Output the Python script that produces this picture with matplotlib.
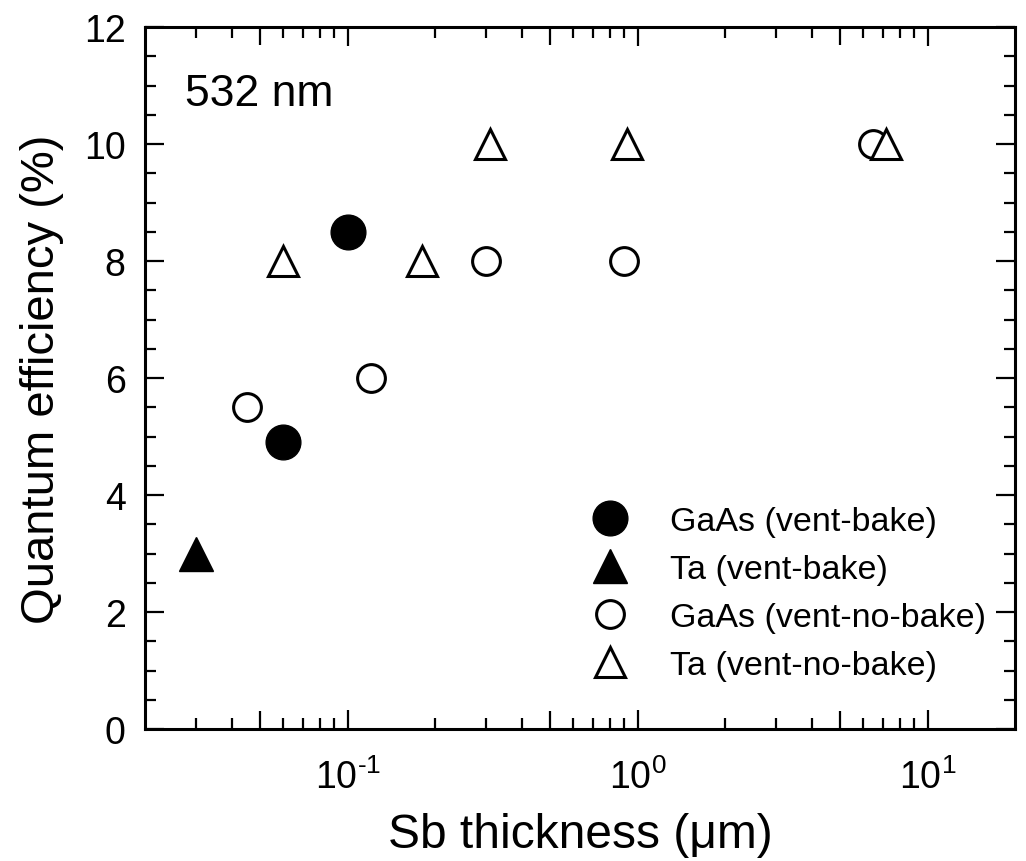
import numpy as np
import matplotlib
matplotlib.use("Agg")
import matplotlib.pyplot as plt
from matplotlib.ticker import FixedLocator, NullFormatter

plt.rcParams['font.family'] = ['Liberation Sans', 'DejaVu Sans']
plt.rcParams['mathtext.fontset'] = 'custom'
plt.rcParams['mathtext.rm'] = 'Liberation Sans'
plt.rcParams['mathtext.it'] = 'Liberation Sans:italic'
plt.rcParams['mathtext.bf'] = 'Liberation Sans:bold'

# Sb thickness (um) vs QE (%) at 532 nm
gaas_bake_x = [0.06, 0.1]
gaas_bake_y = [4.9, 8.5]
ta_bake_x = [0.03]
ta_bake_y = [3.0]
gaas_nobake_x = [0.045, 0.12, 0.3, 0.9, 6.5]
gaas_nobake_y = [5.5, 6.0, 8.0, 8.0, 10.0]
ta_nobake_x = [0.06, 0.18, 0.31, 0.92, 7.2]
ta_nobake_y = [8.0, 8.0, 10.0, 10.0, 10.0]

labels = ['GaAs (vent-bake)', 'Ta (vent-bake)',
          'GaAs (vent-no-bake)', 'Ta (vent-no-bake)']

fig = plt.figure(figsize=(10.26, 8.62), dpi=100)
ax = fig.add_axes([0.1413, 0.1531, 0.848, 0.8144])

ax.plot(gaas_bake_x, gaas_bake_y, 'o', color='k', ms=25, ls='none', label=labels[0])
ax.plot(ta_bake_x, ta_bake_y, '^', color='k', ms=25, ls='none', label=labels[1])
ax.plot(gaas_nobake_x, gaas_nobake_y, 'o', mfc='white', mec='k', mew=2.2, ms=20,
        ls='none', label=labels[2])
ax.plot(ta_nobake_x, ta_nobake_y, '^', mfc='white', mec='k', mew=2.2, ms=21,
        ls='none', label=labels[3])

ax.set_xscale('log')
ax.set_xlim(0.02, 20)
ax.set_ylim(0, 12)

ax.xaxis.set_major_locator(FixedLocator([0.1, 1, 10]))
ax.set_xticklabels([r'10$^{\text{-}1}$', r'10$^{0}$', r'10$^{1}$'])
minor_x = [k * 10.0**d for d in (-2, -1, 0) for k in range(3, 10)] + [0.2, 2]
ax.xaxis.set_minor_locator(FixedLocator(sorted(minor_x)))
ax.xaxis.set_minor_formatter(NullFormatter())

ax.set_yticks(np.arange(0, 13, 2))
ax.yaxis.set_minor_locator(FixedLocator(np.arange(0, 12.01, 0.5)))

ax.tick_params(which='both', direction='in', top=True, right=True, width=1.6)
ax.tick_params(which='major', length=14, labelsize=27, pad=14)
ax.tick_params(axis='x', which='major', pad=21)
ax.tick_params(which='minor', length=8)
for s in ax.spines.values():
    s.set_linewidth(2.2)

# half-decade ticks drawn a bit longer
for loc, t in zip(ax.xaxis.get_minorticklocs(), ax.xaxis.get_minor_ticks()):
    if np.isclose(loc / 10**np.floor(np.log10(loc) + 1e-9), 5):
        t.tick1line.set_markersize(13)
        t.tick2line.set_markersize(13)

ax.set_xlabel('Sb thickness (\u03bcm)', fontsize=34.5, labelpad=12)
ax.set_ylabel('Quantum efficiency (%)', fontsize=34, labelpad=14)

ax.text(0.046, 0.905, '532 nm', transform=ax.transAxes, fontsize=32,
        ha='left', va='center')

ax.legend(loc='upper left', bbox_to_anchor=(0.5155, 0.3175), frameon=False,
          fontsize=24.5, handlelength=1.0, handletextpad=1.25, labelspacing=0.5,
          borderpad=0, borderaxespad=0, numpoints=1)

fig.savefig('out.png', dpi=100)
